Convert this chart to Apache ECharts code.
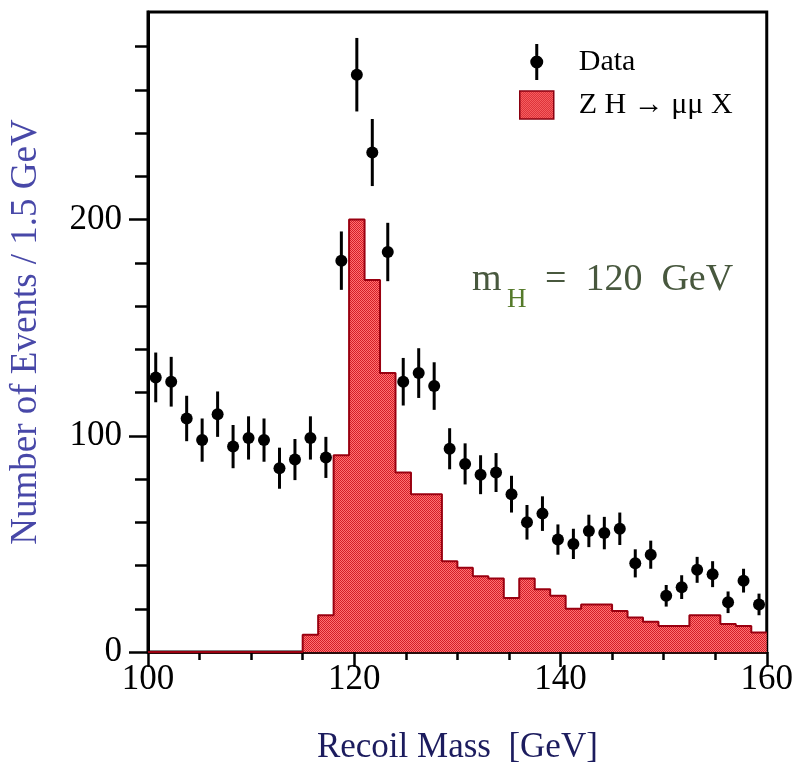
<!DOCTYPE html>
<html>
<head>
<meta charset="utf-8">
<script src="https://cdn.jsdelivr.net/npm/echarts@6/dist/echarts.min.js"></script>
<style>
  html, body { margin: 0; padding: 0; background: #fff; }
  #chart { width: 796px; height: 774px; }
</style>
</head>
<body>
<div id="chart"></div>
<script>
// Recoil-mass histogram: 40 bins of 1.5 GeV from 100 to 160 GeV
const binStart = 100;
const binWidth = 1.5;

// ZH -> mu mu X signal expectation per bin
const signalCounts = [
  0, 0, 0, 0, 0, 0, 0, 0, 0, 0,
  8, 17, 91, 200, 172, 129, 83, 73, 73, 42,
  39, 35, 34, 25, 34, 29, 26, 20, 22, 22,
  19, 16, 14, 12, 12, 17, 17, 13, 12, 9
];

// Observed events per bin and their statistical errors
const dataCounts = [
  127, 125, 108, 98, 110, 95, 99, 98, 85, 89,
  99, 90, 181, 267, 231, 185, 125, 129, 123, 94,
  87, 82, 83, 73, 60, 64, 52, 50, 56, 55,
  57, 41, 45, 26, 30, 38, 36, 23, 33, 22
];
const dataErrors = [
  11.5, 11.5, 10.5, 10, 10.5, 10, 10, 10, 9.5, 9.5,
  10, 9.5, 13.5, 17, 15.5, 13.5, 11, 11.5, 11, 9.5,
  9.5, 9, 9, 8.5, 8, 8, 7, 7, 7.5, 7.5,
  7.5, 6.5, 6.5, 5, 5.5, 6, 6, 5, 5.5, 5
];

const yTicks = [0, 100, 200];

const serif = 'Liberation Serif, Times New Roman, DejaVu Serif, serif';

// bin edges / centres
const edges = signalCounts.map((_, i) => binStart + i * binWidth);
const centres = edges.map(e => e + binWidth / 2);

// step outline points (value held until the next edge)
const histPoints = signalCounts.map((v, i) => [edges[i], v]);
histPoints.push([binStart + signalCounts.length * binWidth, signalCounts[signalCounts.length - 1]]);

// small checkered tile for the hatched fill
const tile = document.createElement('canvas');
tile.width = 2; tile.height = 2;
const tctx = tile.getContext('2d');
tctx.fillStyle = '#ff7272';
tctx.fillRect(0, 0, 2, 2);
tctx.fillStyle = '#d41e28';
tctx.fillRect(0, 0, 1, 1);
tctx.fillRect(1, 1, 1, 1);
const hatch = { image: tile, repeat: 'repeat' };

const chart = echarts.init(document.getElementById('chart'), null, { renderer: 'canvas' });

// legend glyphs: marker with error bar, and a filled box
const dataIcon = 'path://M6.5 0 H9.5 V36 H6.5 Z M1.5 18 A6.5 6.5 0 1 1 14.5 18 A6.5 6.5 0 1 1 1.5 18 Z';
const boxIcon = 'path://M0 0 H34 V28 H0 Z';

chart.setOption({
  animation: false,
  backgroundColor: '#fff',
  grid: {
    left: 148, right: 25, top: 12, bottom: 122,
    show: true, borderColor: '#000', borderWidth: 3, backgroundColor: 'transparent'
  },
  legend: {
    orient: 'vertical',
    left: 514, top: 39,
    itemWidth: 34, itemHeight: 36, itemGap: 10,
    selectedMode: false,
    textStyle: { fontFamily: serif, fontSize: 30, color: '#000', padding: [0, 0, 0, 20] },
    data: [
      { name: 'Data', icon: dataIcon, itemStyle: { color: '#000' } },
      { name: 'Z H \u2192 \u03bc\u03bc X', icon: boxIcon,
        itemStyle: { color: hatch, borderColor: '#8a0010', borderWidth: 1.5 } }
    ]
  },
  xAxis: {
    type: 'value',
    min: 100, max: 160, interval: 20,
    name: 'Recoil Mass  [GeV]',
    nameLocation: 'middle', nameGap: 78,
    nameTextStyle: { fontFamily: serif, fontSize: 35, color: '#1c1c5e' },
    axisLine: { show: true, lineStyle: { color: '#2a0c0c', width: 3 } },
    axisTick: { show: true, inside: false, length: 15, lineStyle: { color: '#000', width: 2.5 } },
    minorTick: { show: true, splitNumber: 4, length: 8, lineStyle: { color: '#000', width: 2.5 } },
    axisLabel: { fontFamily: serif, fontSize: 35, color: '#000', margin: 10 },
    splitLine: { show: false },
    minorSplitLine: { show: false }
  },
  yAxis: {
    type: 'value',
    min: 0, max: 296, interval: 100,
    name: 'Number of Events / 1.5 GeV',
    nameLocation: 'middle', nameGap: 103, nameRotate: 90,
    nameTextStyle: { fontFamily: serif, fontSize: 37, color: '#4848a8' },
    axisLine: { show: true, lineStyle: { color: '#000', width: 3 } },
    axisTick: { show: true, inside: false, length: 19, customValues: yTicks,
                lineStyle: { color: '#000', width: 2.5 } },
    minorTick: { show: true, splitNumber: 5, length: 13, lineStyle: { color: '#000', width: 2.5 } },
    axisLabel: { fontFamily: serif, fontSize: 35, color: '#000', margin: 26, customValues: yTicks },
    splitLine: { show: false },
    minorSplitLine: { show: false }
  },
  graphic: [
    {
      type: 'group',
      children: [
        { type: 'text', x: 472, y: 280,
          style: { text: 'm', font: '38px ' + serif, fill: '#48583e', verticalAlign: 'middle' } },
        { type: 'text', x: 507, y: 300,
          style: { text: 'H', font: '27px ' + serif, fill: '#557a2a', verticalAlign: 'middle' } },
        { type: 'text', x: 545, y: 280,
          style: { text: '=  120  GeV', font: '38px ' + serif, fill: '#48583e', verticalAlign: 'middle' } }
      ]
    }
  ],
  series: [
    {
      type: 'line',
      name: 'Z H \u2192 \u03bc\u03bc X',
      step: 'end',
      symbol: 'none',
      data: histPoints,
      lineStyle: { color: '#9a0010', width: 2 },
      itemStyle: { color: '#d41e28' },
      areaStyle: { color: hatch, opacity: 1 },
      z: 2
    },
    {
      type: 'custom',
      name: 'Data',
      data: dataCounts.map((v, i) => [centres[i], v, dataErrors[i]]),
      encode: { x: 0, y: 1 },
      itemStyle: { color: '#000' },
      z: 5,
      renderItem: function (params, api) {
        const x = api.value(0), y = api.value(1), e = api.value(2);
        const top = api.coord([x, y + e]);
        const bot = api.coord([x, y - e]);
        const mid = api.coord([x, y]);
        return {
          type: 'group',
          children: [
            { type: 'line', shape: { x1: top[0], y1: top[1], x2: bot[0], y2: bot[1] },
              style: { stroke: '#000', lineWidth: 3 } },
            { type: 'circle', shape: { cx: mid[0], cy: mid[1], r: 6 },
              style: { fill: '#000' } }
          ]
        };
      }
    }
  ]
});
</script>
</body>
</html>
